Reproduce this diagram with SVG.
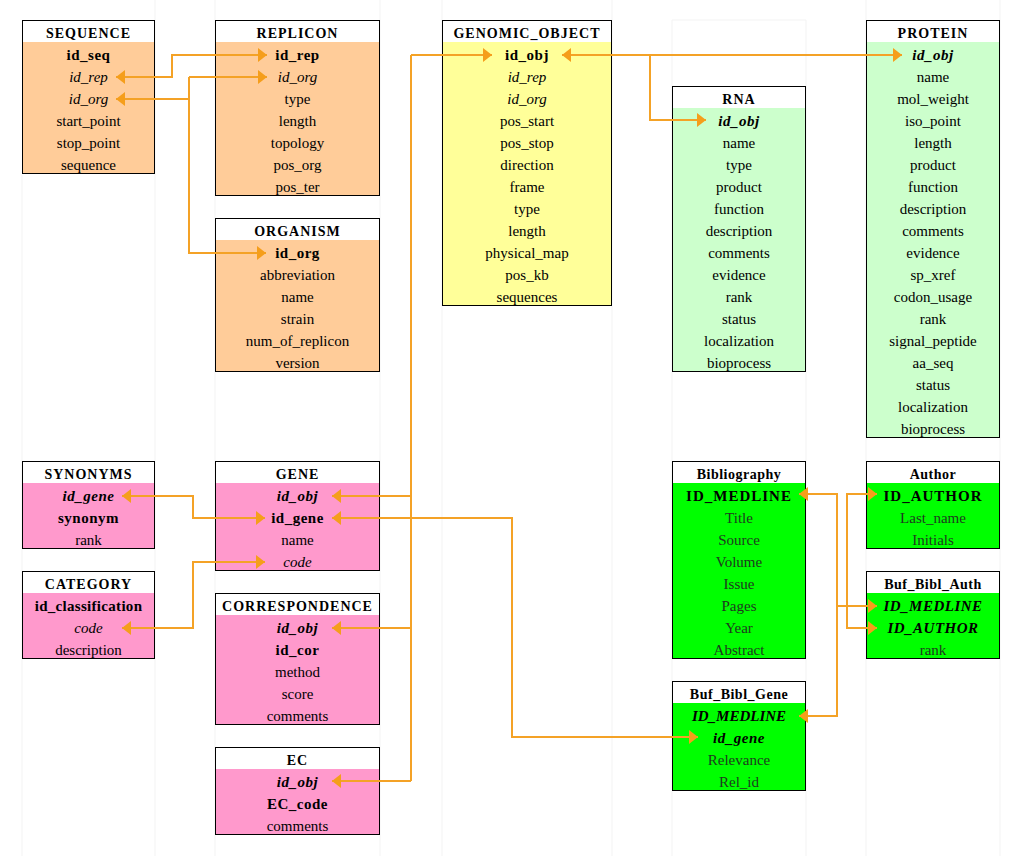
<svg xmlns="http://www.w3.org/2000/svg" width="1020" height="856" viewBox="0 0 1020 856">
<style>
.grid{stroke:#f3f3f3;stroke-width:1;fill:none}
.frame{fill:none;stroke:#000;stroke-width:1}
.hd{fill:#fff}
.org{fill:#FFCC99}
.yel{fill:#FFFF99}
.lgr{fill:#CCFFCC}
.pnk{fill:#FF99CC}
.grn{fill:#00FF00}
text{font-family:"Liberation Serif","Times New Roman",serif;text-anchor:middle;fill:#000}
.h{font-size:14px;font-weight:bold;letter-spacing:1px}
.t{font-size:15px}
.b{font-weight:bold;letter-spacing:0.5px}
.i{font-style:italic}
.gt{fill:#1f3a1f}
.conn path{fill:none;stroke:#F4A226;stroke-width:2;stroke-linejoin:miter}
</style>
<defs>
<marker id="ah" viewBox="0 0 9 14" markerWidth="9" markerHeight="14" refX="9" refY="7" orient="auto-start-reverse" markerUnits="userSpaceOnUse">
<path d="M0,0 L9,7 L0,14 z" fill="#F59E1B"/>
</marker>
</defs>
<rect width="1020" height="856" fill="#fff"/>
<g id="gridlines">
<path class="grid" d="M22,175 V856 M155,0 V856 M215,0 V856 M380,0 V856 M442,0 V856 M612,0 V856 M672,20 V856 M806,20 V856 M866,0 V856 M1000,0 V856 M672,20 H806"/>
</g>

<g id="n-sequence">
<rect class="org" x="22" y="20" width="133" height="154"/>
<rect class="hd" x="22" y="20" width="133" height="22"/>
<rect class="frame" x="22.5" y="20.5" width="132" height="153"/>
<text class="h" x="88.5" y="37.5">SEQUENCE</text>
<text class="t b" x="88.5" y="59.5">id_seq</text>
<text class="t i" x="88.5" y="81.5">id_rep</text>
<text class="t i" x="88.5" y="103.5">id_org</text>
<text class="t" x="88.5" y="125.5">start_point</text>
<text class="t" x="88.5" y="147.5">stop_point</text>
<text class="t" x="88.5" y="169.5">sequence</text>
</g>

<g id="n-replicon">
<rect class="org" x="215" y="20" width="165" height="176"/>
<rect class="hd" x="215" y="20" width="165" height="22"/>
<rect class="frame" x="215.5" y="20.5" width="164" height="175"/>
<text class="h" x="297.5" y="37.5">REPLICON</text>
<text class="t b" x="297.5" y="59.5">id_rep</text>
<text class="t i" x="297.5" y="81.5">id_org</text>
<text class="t" x="297.5" y="103.5">type</text>
<text class="t" x="297.5" y="125.5">length</text>
<text class="t" x="297.5" y="147.5">topology</text>
<text class="t" x="297.5" y="169.5">pos_org</text>
<text class="t" x="297.5" y="191.5">pos_ter</text>
</g>

<g id="n-organism">
<rect class="org" x="215" y="218" width="165" height="154"/>
<rect class="hd" x="215" y="218" width="165" height="22"/>
<rect class="frame" x="215.5" y="218.5" width="164" height="153"/>
<text class="h" x="297.5" y="235.5">ORGANISM</text>
<text class="t b" x="297.5" y="257.5">id_org</text>
<text class="t" x="297.5" y="279.5">abbreviation</text>
<text class="t" x="297.5" y="301.5">name</text>
<text class="t" x="297.5" y="323.5">strain</text>
<text class="t" x="297.5" y="345.5">num_of_replicon</text>
<text class="t" x="297.5" y="367.5">version</text>
</g>

<g id="n-genomic-object">
<rect class="yel" x="442" y="20" width="170" height="286"/>
<rect class="hd" x="442" y="20" width="170" height="22"/>
<rect class="frame" x="442.5" y="20.5" width="169" height="285"/>
<text class="h" x="527" y="37.5">GENOMIC_OBJECT</text>
<text class="t b" x="527" y="59.5">id_obj</text>
<text class="t i" x="527" y="81.5">id_rep</text>
<text class="t i" x="527" y="103.5">id_org</text>
<text class="t" x="527" y="125.5">pos_start</text>
<text class="t" x="527" y="147.5">pos_stop</text>
<text class="t" x="527" y="169.5">direction</text>
<text class="t" x="527" y="191.5">frame</text>
<text class="t" x="527" y="213.5">type</text>
<text class="t" x="527" y="235.5">length</text>
<text class="t" x="527" y="257.5">physical_map</text>
<text class="t" x="527" y="279.5">pos_kb</text>
<text class="t" x="527" y="301.5">sequences</text>
</g>

<g id="n-rna">
<rect class="lgr" x="672" y="86" width="134" height="286"/>
<rect class="hd" x="672" y="86" width="134" height="22"/>
<rect class="frame" x="672.5" y="86.5" width="133" height="285"/>
<text class="h" x="739" y="103.5">RNA</text>
<text class="t b i" x="739" y="125.5">id_obj</text>
<text class="t" x="739" y="147.5">name</text>
<text class="t" x="739" y="169.5">type</text>
<text class="t" x="739" y="191.5">product</text>
<text class="t" x="739" y="213.5">function</text>
<text class="t" x="739" y="235.5">description</text>
<text class="t" x="739" y="257.5">comments</text>
<text class="t" x="739" y="279.5">evidence</text>
<text class="t" x="739" y="301.5">rank</text>
<text class="t" x="739" y="323.5">status</text>
<text class="t" x="739" y="345.5">localization</text>
<text class="t" x="739" y="367.5">bioprocess</text>
</g>

<g id="n-protein">
<rect class="lgr" x="866" y="20" width="134" height="418"/>
<rect class="hd" x="866" y="20" width="134" height="22"/>
<rect class="frame" x="866.5" y="20.5" width="133" height="417"/>
<text class="h" x="933" y="37.5">PROTEIN</text>
<text class="t b i" x="933" y="59.5">id_obj</text>
<text class="t" x="933" y="81.5">name</text>
<text class="t" x="933" y="103.5">mol_weight</text>
<text class="t" x="933" y="125.5">iso_point</text>
<text class="t" x="933" y="147.5">length</text>
<text class="t" x="933" y="169.5">product</text>
<text class="t" x="933" y="191.5">function</text>
<text class="t" x="933" y="213.5">description</text>
<text class="t" x="933" y="235.5">comments</text>
<text class="t" x="933" y="257.5">evidence</text>
<text class="t" x="933" y="279.5">sp_xref</text>
<text class="t" x="933" y="301.5">codon_usage</text>
<text class="t" x="933" y="323.5">rank</text>
<text class="t" x="933" y="345.5">signal_peptide</text>
<text class="t" x="933" y="367.5">aa_seq</text>
<text class="t" x="933" y="389.5">status</text>
<text class="t" x="933" y="411.5">localization</text>
<text class="t" x="933" y="433.5">bioprocess</text>
</g>

<g id="n-synonyms">
<rect class="pnk" x="22" y="461" width="133" height="88"/>
<rect class="hd" x="22" y="461" width="133" height="22"/>
<rect class="frame" x="22.5" y="461.5" width="132" height="87"/>
<text class="h" x="88.5" y="478.5">SYNONYMS</text>
<text class="t b i" x="88.5" y="500.5">id_gene</text>
<text class="t b" x="88.5" y="522.5">synonym</text>
<text class="t" x="88.5" y="544.5">rank</text>
</g>

<g id="n-category">
<rect class="pnk" x="22" y="571" width="133" height="88"/>
<rect class="hd" x="22" y="571" width="133" height="22"/>
<rect class="frame" x="22.5" y="571.5" width="132" height="87"/>
<text class="h" x="88.5" y="588.5">CATEGORY</text>
<text class="t b" x="88.5" y="610.5" style="letter-spacing:0.3px">id_classification</text>
<text class="t i" x="88.5" y="632.5">code</text>
<text class="t" x="88.5" y="654.5">description</text>
</g>

<g id="n-gene">
<rect class="pnk" x="215" y="461" width="165" height="110"/>
<rect class="hd" x="215" y="461" width="165" height="22"/>
<rect class="frame" x="215.5" y="461.5" width="164" height="109"/>
<text class="h" x="297.5" y="478.5">GENE</text>
<text class="t b i" x="297.5" y="500.5">id_obj</text>
<text class="t b" x="297.5" y="522.5">id_gene</text>
<text class="t" x="297.5" y="544.5">name</text>
<text class="t i" x="297.5" y="566.5">code</text>
</g>

<g id="n-correspondence">
<rect class="pnk" x="215" y="593" width="165" height="132"/>
<rect class="hd" x="215" y="593" width="165" height="22"/>
<rect class="frame" x="215.5" y="593.5" width="164" height="131"/>
<text class="h" x="297.5" y="610.5">CORRESPONDENCE</text>
<text class="t b i" x="297.5" y="632.5">id_obj</text>
<text class="t b" x="297.5" y="654.5">id_cor</text>
<text class="t" x="297.5" y="676.5">method</text>
<text class="t" x="297.5" y="698.5">score</text>
<text class="t" x="297.5" y="720.5">comments</text>
</g>

<g id="n-ec">
<rect class="pnk" x="215" y="747" width="165" height="88"/>
<rect class="hd" x="215" y="747" width="165" height="22"/>
<rect class="frame" x="215.5" y="747.5" width="164" height="87"/>
<text class="h" x="297.5" y="764.5">EC</text>
<text class="t b i" x="297.5" y="786.5">id_obj</text>
<text class="t b" x="297.5" y="808.5">EC_code</text>
<text class="t" x="297.5" y="830.5">comments</text>
</g>

<g id="n-bibliography">
<rect class="grn" x="672" y="461" width="134" height="198"/>
<rect class="hd" x="672" y="461" width="134" height="22"/>
<rect class="frame" x="672.5" y="461.5" width="133" height="197"/>
<text class="h" x="739" y="478.5" style="letter-spacing:0.5px">Bibliography</text>
<text class="t b" x="739" y="500.5" style="letter-spacing:1px">ID_MEDLINE</text>
<text class="t gt" x="739" y="522.5">Title</text>
<text class="t gt" x="739" y="544.5">Source</text>
<text class="t gt" x="739" y="566.5">Volume</text>
<text class="t gt" x="739" y="588.5">Issue</text>
<text class="t gt" x="739" y="610.5">Pages</text>
<text class="t gt" x="739" y="632.5">Year</text>
<text class="t gt" x="739" y="654.5">Abstract</text>
</g>

<g id="n-author">
<rect class="grn" x="866" y="461" width="134" height="88"/>
<rect class="hd" x="866" y="461" width="134" height="22"/>
<rect class="frame" x="866.5" y="461.5" width="133" height="87"/>
<text class="h" x="933" y="478.5" style="letter-spacing:0.5px">Author</text>
<text class="t b" x="933" y="500.5" style="letter-spacing:1px">ID_AUTHOR</text>
<text class="t gt" x="933" y="522.5">Last_name</text>
<text class="t gt" x="933" y="544.5">Initials</text>
</g>

<g id="n-buf-bibl-auth">
<rect class="grn" x="866" y="571" width="134" height="88"/>
<rect class="hd" x="866" y="571" width="134" height="22"/>
<rect class="frame" x="866.5" y="571.5" width="133" height="87"/>
<text class="h" x="933" y="588.5" style="letter-spacing:0.5px">Buf_Bibl_Auth</text>
<text class="t b i" x="933" y="610.5">ID_MEDLINE</text>
<text class="t b i" x="933" y="632.5">ID_AUTHOR</text>
<text class="t gt" x="933" y="654.5">rank</text>
</g>

<g id="n-buf-bibl-gene">
<rect class="grn" x="672" y="681" width="134" height="110"/>
<rect class="hd" x="672" y="681" width="134" height="22"/>
<rect class="frame" x="672.5" y="681.5" width="133" height="109"/>
<text class="h" x="739" y="698.5" style="letter-spacing:0.5px">Buf_Bibl_Gene</text>
<text class="t i" x="739" y="720.5" style="font-weight:bold">ID_MEDLINE</text>
<text class="t b i" x="739" y="742.5">id_gene</text>
<text class="t gt" x="739" y="764.5">Relevance</text>
<text class="t gt" x="739" y="786.5">Rel_id</text>
</g>

<g id="connectors" class="conn">
<path d="M116,77 H172 V55 H267" marker-start="url(#ah)" marker-end="url(#ah)"/>
<path d="M189,99 H116" marker-end="url(#ah)"/>
<path d="M189,77 H267" marker-end="url(#ah)"/>
<path d="M189,77 V253 H266" marker-end="url(#ah)"/>
<path d="M411,55 H492" marker-end="url(#ah)"/>
<path d="M411,55 V781"/>
<path d="M411,496 H332" marker-end="url(#ah)"/>
<path d="M411,628 H332" marker-end="url(#ah)"/>
<path d="M411,781 H332" marker-end="url(#ah)"/>
<path d="M562,55 H902" marker-start="url(#ah)" marker-end="url(#ah)"/>
<path d="M650,55 V120 H706" marker-end="url(#ah)"/>
<path d="M332,518 H512 V737 H698" marker-start="url(#ah)" marker-end="url(#ah)"/>
<path d="M122,496 H193 V518 H265" marker-start="url(#ah)" marker-end="url(#ah)"/>
<path d="M122,628 H193 V562 H265" marker-start="url(#ah)" marker-end="url(#ah)"/>
<path d="M799,494 H837 V716 H799" marker-start="url(#ah)" marker-end="url(#ah)"/>
<path d="M837,606 H877" marker-end="url(#ah)"/>
<path d="M877,494 H847 V628 H877" marker-start="url(#ah)" marker-end="url(#ah)"/>
</g>
</svg>
